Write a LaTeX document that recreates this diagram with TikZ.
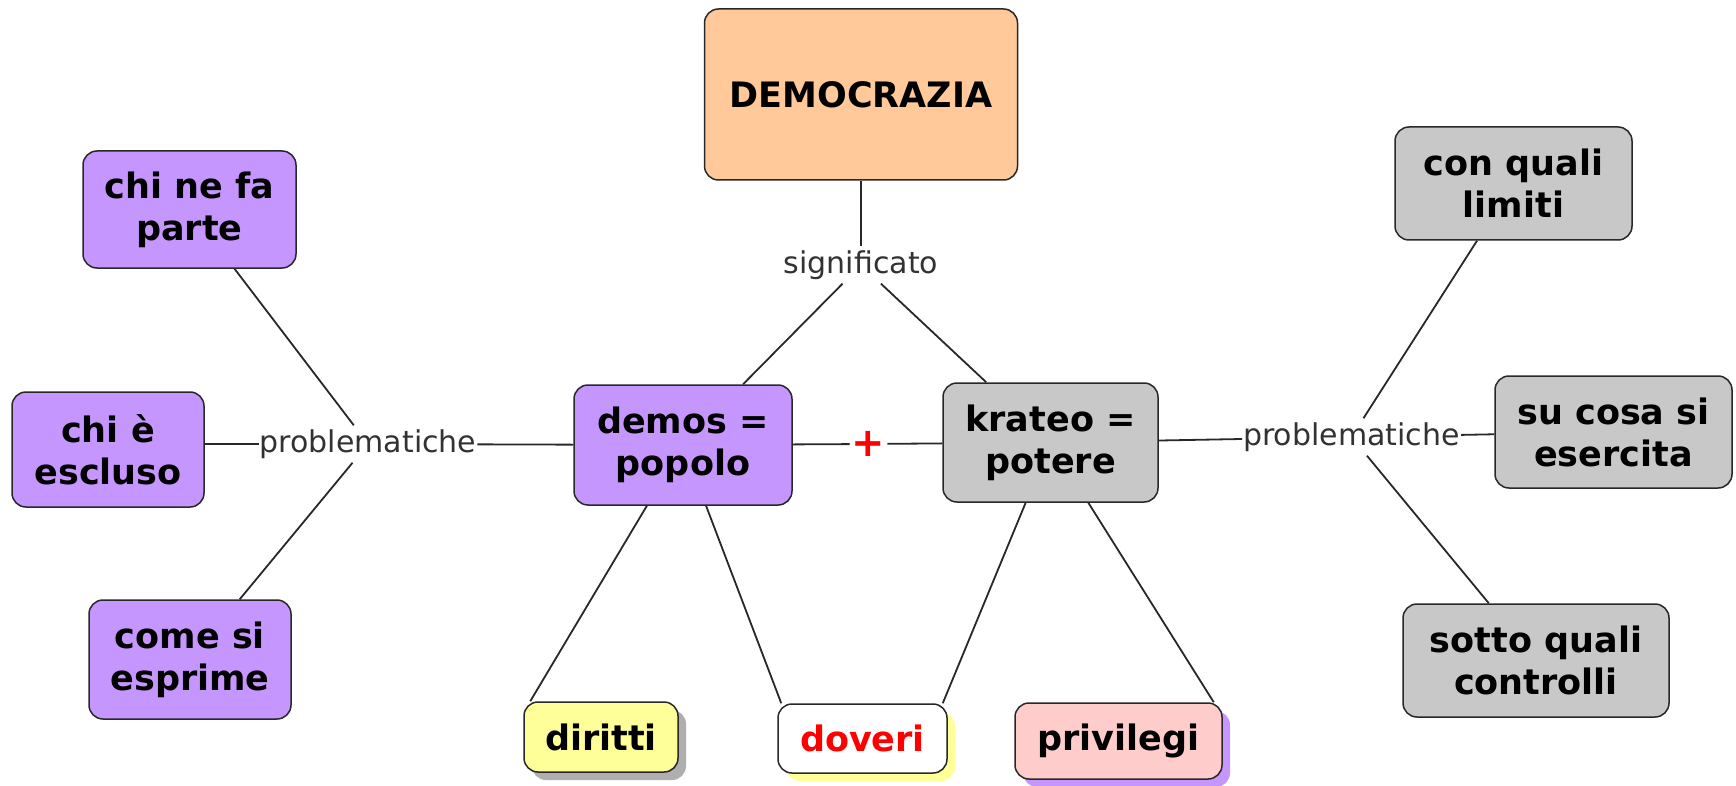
\documentclass[tikz,border=0pt]{standalone}
\usepackage{fontspec}
\setmainfont{DejaVu Sans}
\usetikzlibrary{shadows}
\definecolor{peach}{RGB}{255,201,153}
\definecolor{lilac}{RGB}{198,150,255}
\definecolor{greybox}{RGB}{200,200,200}
\definecolor{yell}{RGB}{255,255,153}
\definecolor{pinkbox}{RGB}{255,204,204}
\definecolor{lncol}{RGB}{40,40,40}
\definecolor{lbltxt}{RGB}{50,50,50}
\definecolor{shgrey}{RGB}{175,175,175}
\definecolor{redtxt}{RGB}{255,0,0}
\begin{document}
\begin{tikzpicture}[x=1pt,y=-1pt,
  box/.style={draw=lncol, line width=1.5pt, rounded corners=14pt, align=center,
    font=\fontsize{35}{42}\selectfont\bfseries, inner sep=0pt},
  lnk/.style={draw=lncol, line width=1.8pt},
  lbl/.style={fill=white, inner xsep=1pt, inner ysep=4pt, text=lbltxt,
    font=\fontsize{30}{36}\selectfont},
  shad/.style={drop shadow={shadow xshift=8pt, shadow yshift=-8pt, fill=#1, opacity=1}}]
\fill[white] (0,0) rectangle (1736,786);
\useasboundingbox (0,0) rectangle (1736,786);

% main boxes
\node[box, fill=peach, minimum width=313pt, minimum height=171pt] (dem) at (861,94.5) {DEMOCRAZIA};
\node[box, fill=lilac, minimum width=218pt, minimum height=120pt] (demos) at (683,445) {demos =\\popolo};
\node[box, fill=greybox, minimum width=215pt, minimum height=119pt] (krateo) at (1050.5,442.5) {krateo =\\potere};

% left boxes
\node[box, fill=lilac, minimum width=213pt, minimum height=117pt] (cnf) at (189.5,209.5) {chi ne fa\\parte};
\node[box, fill=lilac, minimum width=192pt, minimum height=115pt] (cee) at (108,449.5) {chi è\\escluso};
\node[box, fill=lilac, minimum width=202pt, minimum height=119pt] (cse) at (190,659.5) {come si\\esprime};

% right boxes
\node[box, fill=greybox, minimum width=237pt, minimum height=113pt] (clq) at (1513.5,183.5) {con quali\\limiti};
\node[box, fill=greybox, minimum width=237pt, minimum height=112pt] (scse) at (1613.5,432) {su cosa si\\esercita};
\node[box, fill=greybox, minimum width=266pt, minimum height=113pt] (sqc) at (1536,660.5) {sotto quali\\controlli};

% bottom boxes
\node[box, fill=yell, shad=shgrey, minimum width=154pt, minimum height=70pt] (dir) at (601,737) {diritti};
\node[box, fill=white, shad=yell, text=redtxt, minimum width=169pt, minimum height=69pt] (dov) at (862.5,738.5) {doveri};
\node[box, fill=pinkbox, shad=lilac, minimum width=207pt, minimum height=76pt] (pri) at (1118.5,741) {privilegi};

% linking phrases
\node[lbl] (sig) at (861,265) {significato};
\node[lbl] (lblL) at (368,444) {problematiche};
\node[lbl] (lblR) at (1351.5,437) {problematiche};
\node[fill=white, inner sep=2pt, text=redtxt, font=\fontsize{40}{40}\selectfont\bfseries] (plus) at (868.5,444) {+};

% connectors
\draw[lnk] (dem) -- (sig);
\draw[lnk] (sig) -- (demos);
\draw[lnk] (sig) -- (krateo);
\draw[lnk] (demos) -- (plus);
\draw[lnk] (plus) -- (krateo);

\draw[lnk] (demos) -- (lblL);
\draw[lnk] (lblL) -- (cnf);
\draw[lnk] (lblL.west) -- (cee.east |- lblL.west);
\draw[lnk] (lblL) -- (cse);

\draw[lnk] (krateo) -- (lblR);
\draw[lnk] (lblR) -- (clq);
\draw[lnk] (lblR) -- (scse);
\draw[lnk] (lblR) -- (sqc);

\draw[lnk] ([xshift=7pt]dir.north west) -- (demos);
\draw[lnk] ([xshift=4pt]dov.north west) -- (demos);
\draw[lnk] ([xshift=-5pt]dov.north east) -- (krateo);
\draw[lnk] ([xshift=-9pt]pri.north east) -- (krateo);
\end{tikzpicture}
\end{document}
